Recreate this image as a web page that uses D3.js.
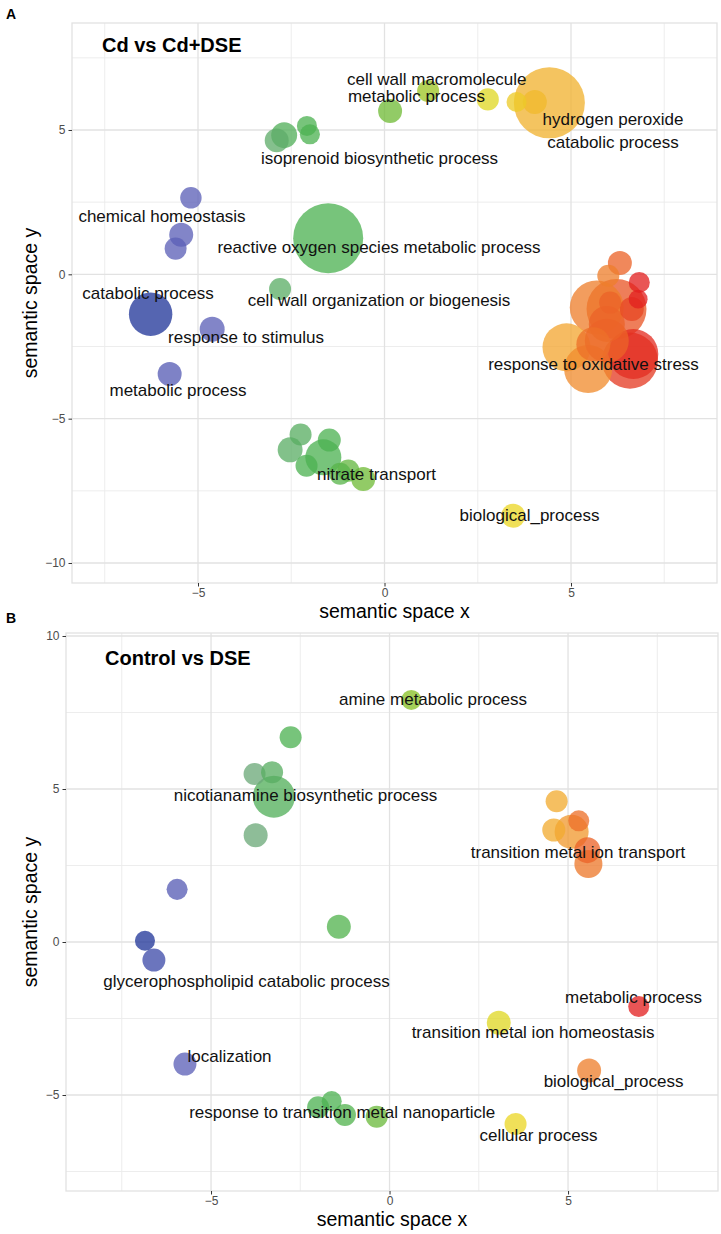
<!DOCTYPE html>
<html>
<head>
<meta charset="utf-8">
<script src="https://cdn.jsdelivr.net/npm/d3@7"></script>
<style>
  body { margin: 0; background: #fff; }
  svg { display: block; font-family: "Liberation Sans", Arial, Helvetica, sans-serif; }
</style>
</head>
<body>
<svg id="chart" width="721" height="1234"></svg>
<script>
// ---------- Panel A : Cd vs Cd+DSE ----------
const titleA = "Cd vs Cd+DSE";
const xA    = [-5.19,-5.45,-5.60,-6.27,-4.62,-5.76,-2.89,-2.69,-2.08,-2.00,-2.80,-1.51, 0.15, 1.17, 2.77, 3.54, 4.03, 4.42,
               6.31, 6.00, 6.83, 6.80, 5.69, 6.22, 6.05, 6.63, 4.88, 5.46, 5.96, 6.58, 6.67, 5.60, 5.96,
              -2.25,-2.53,-1.48,-1.64,-2.09,-0.97,-1.19,-0.57, 3.45];
const yA    = [ 2.65, 1.37, 0.89,-1.38,-1.90,-3.45, 4.64, 4.82, 5.14, 4.85,-0.51, 1.25, 5.66, 6.35, 6.06, 5.97, 5.97, 5.94,
               0.39,-0.05,-0.28,-0.86,-1.15,-1.20,-0.98,-1.20,-2.53,-3.28,-2.30,-2.99,-2.76,-2.42,-1.72,
              -5.55,-6.08,-5.74,-6.34,-6.63,-6.80,-6.91,-7.09,-8.36];
const sizeA = [ 1.39, 1.57, 1.43, 2.96, 1.64, 1.57, 1.57, 1.71, 1.29, 1.29, 1.43, 4.86, 1.57, 1.43, 1.43, 1.29, 1.57, 4.93,
               1.57, 1.43, 1.36, 1.21, 3.71, 4.14, 1.43, 1.57, 3.29, 3.29, 3.00, 3.86, 3.43, 2.29, 2.43,
               1.43, 1.64, 1.50, 2.43, 1.43, 1.43, 1.43, 1.57, 1.57];
const pA    = [-7.0,-7.0,-7.0,-8.0,-7.0,-7.1,-6.3,-6.1,-6.0,-6.0,-6.25,-6.0,-5.4,-4.8,-4.1,-3.7,-3.35,-3.2,
               -2.5,-2.7,-2.0,-2.0,-2.7,-2.4,-2.5,-2.3,-3.0,-2.8,-2.5,-2.2,-2.1,-2.6,-2.5,
               -6.2,-6.25,-6.0,-6.0,-6.0,-5.6,-5.8,-5.4,-3.9];
const labelTextA = ["cell wall macromolecule","metabolic process","hydrogen peroxide","catabolic process",
                    "isoprenoid biosynthetic process","chemical homeostasis","reactive oxygen species metabolic process",
                    "catabolic process","cell wall organization or biogenesis","response to stimulus","metabolic process",
                    "response to oxidative stress","nitrate transport","biological_process"];
const labelXA = [-1.005,-0.98, 6.126, 6.126,-0.134,-5.965,-0.147,-6.34,-0.147,-3.713,-5.536, 5.603,-0.214, 3.887];
const labelYA = [ 6.557, 5.97, 5.173, 4.377, 3.824, 1.817, 0.744,-0.848,-1.09,-2.37,-4.204,-3.304,-7.111,-8.529];
const labelAnchorA = ["start","start","middle","middle","middle","middle","middle","middle","middle","middle","middle","middle","middle","middle"];
const xDomainA = [-8.378, 8.914], yDomainA = [-10.693, 8.706];
const xTicksA = [-5, 0, 5], yTicksA = [-10, -5, 0, 5];
const xMinorA = [-7.5, -2.5, 2.5, 7.5], yMinorA = [-7.5, -2.5, 2.5, 7.5];

// ---------- Panel B : Control vs DSE ----------
const titleB = "Control vs DSE";
const xB    = [ 0.61,-2.77,-3.78,-3.29,-3.24,-3.75,-5.95,-1.42,-6.85,-6.60,-5.73,-2.00,-1.62,-1.25,-0.36, 3.06, 3.53, 6.98, 5.59,
                4.68, 4.60, 5.10, 5.30, 5.54, 5.57];
const yB    = [ 7.91, 6.69, 5.49, 5.55, 4.75, 3.49, 1.72, 0.50, 0.04,-0.59,-3.99,-5.40,-5.20,-5.65,-5.71,-2.64,-5.95,-2.11,-4.20,
                4.60, 3.66, 3.60, 3.96, 3.00, 2.55];
const sizeB = [ 1.29, 1.43, 1.43, 1.43, 2.86, 1.57, 1.36, 1.57, 1.29, 1.50, 1.50, 1.43, 1.29, 1.43, 1.43, 1.57, 1.43, 1.36, 1.57,
                1.43, 1.50, 2.29, 1.36, 1.71, 1.86];
const pB    = [-5.0,-6.0,-6.5,-6.2,-6.1,-6.5,-7.1,-5.9,-8.0,-7.5,-7.0,-6.0,-6.0,-5.9,-5.5,-4.1,-3.9,-2.0,-2.7,
               -3.1,-3.1,-2.9,-2.6,-2.5,-2.65];
const labelTextB = ["amine metabolic process","nicotianamine biosynthetic process","transition metal ion transport",
                    "glycerophospholipid catabolic process","metabolic process","transition metal ion homeostasis",
                    "localization","biological_process","response to transition metal nanoparticle","cellular process"];
const labelXB = [ 1.218,-2.353, 5.28,-4.006, 6.835, 4.02,-4.482, 6.275,-1.325, 4.174];
const labelYB = [ 7.745, 4.608, 2.745,-1.47,-1.993,-3.137,-3.922,-4.739,-5.752,-6.503];
const labelAnchorB = ["middle","middle","middle","middle","middle","middle","middle","middle","middle","middle"];
const xDomainB = [-9.062, 9.2], yDomainB = [-8.137, 10.098];
const xTicksB = [-5, 0, 5], yTicksB = [-5, 0, 5, 10];
const xMinorB = [-7.5, -2.5, 2.5, 7.5], yMinorB = [-7.5, -2.5, 2.5, 7.5];

// ---------- shared scales ----------
const colorStops = [-8, -7, -6.5, -6, -5, -4, -3, -2];
const colorRange = ["#1f3598", "#5b5fb7", "#6aa878", "#4cb152", "#88c024", "#eadb24", "#f3a630", "#e21f1f"];
const color = d3.scaleLinear().domain(colorStops).range(colorRange).interpolate(d3.interpolateRgb).clamp(true);
const radius = d3.scaleLinear().domain([1, 5]).range([8, 36]);

const svg = d3.select("#chart");

function drawPanel(cfg) {
  const { box, xDomain, yDomain, xTicks, yTicks, xMinor, yMinor, xs, ys, sizes, ps,
          labels, lx, ly, anchors, title, letter, letterY } = cfg;
  const x = d3.scaleLinear().domain(xDomain).range([box.left, box.right]);
  const y = d3.scaleLinear().domain(yDomain).range([box.bottom, box.top]);
  const g = svg.append("g");

  // grid
  g.selectAll(".minx").data(xMinor).join("line")
    .attr("x1", d => x(d)).attr("x2", d => x(d)).attr("y1", box.top).attr("y2", box.bottom)
    .attr("stroke", "#ebebeb").attr("stroke-width", 0.9);
  g.selectAll(".miny").data(yMinor).join("line")
    .attr("y1", d => y(d)).attr("y2", d => y(d)).attr("x1", box.left).attr("x2", box.right)
    .attr("stroke", "#ebebeb").attr("stroke-width", 0.9);
  g.selectAll(".majx").data(xTicks).join("line")
    .attr("x1", d => x(d)).attr("x2", d => x(d)).attr("y1", box.top).attr("y2", box.bottom)
    .attr("stroke", "#e2e2e2").attr("stroke-width", 1.3);
  g.selectAll(".majy").data(yTicks).join("line")
    .attr("y1", d => y(d)).attr("y2", d => y(d)).attr("x1", box.left).attr("x2", box.right)
    .attr("stroke", "#e2e2e2").attr("stroke-width", 1.3);
  g.append("rect").attr("x", box.left).attr("y", box.top)
    .attr("width", box.right - box.left).attr("height", box.bottom - box.top)
    .attr("fill", "none").attr("stroke", "#e2e2e2").attr("stroke-width", 1.3);

  // axes
  const xAxis = g.append("g").attr("transform", `translate(0,${box.bottom})`)
    .call(d3.axisBottom(x).tickValues(xTicks).tickSize(3.5).tickPadding(2)
      .tickFormat(d => d < 0 ? "\u2212" + Math.abs(d) : d));
  const yAxis = g.append("g").attr("transform", `translate(${box.left},0)`)
    .call(d3.axisLeft(y).tickValues(yTicks).tickSize(3.5).tickPadding(3)
      .tickFormat(d => d < 0 ? "\u2212" + Math.abs(d) : d));
  [xAxis, yAxis].forEach(a => {
    a.select(".domain").remove();
    a.selectAll(".tick line").attr("stroke", "#333").attr("stroke-width", 1);
    a.selectAll(".tick text").attr("fill", "#4d4d4d").attr("font-size", 12)
      .attr("font-family", "Liberation Sans, Arial, sans-serif");
  });

  // bubbles
  const idx = d3.range(xs.length).sort((a, b) => sizes[b] - sizes[a]);
  g.append("g").selectAll("circle").data(idx).join("circle")
    .attr("cx", i => x(xs[i])).attr("cy", i => y(ys[i]))
    .attr("r", i => radius(sizes[i]))
    .attr("fill", i => color(ps[i])).attr("fill-opacity", 0.76);

  // labels
  g.append("g").selectAll("text").data(labels).join("text")
    .attr("x", (d, i) => x(lx[i])).attr("y", (d, i) => y(ly[i]))
    .attr("text-anchor", (d, i) => anchors[i])
    .attr("font-size", 17).attr("fill", "#111")
    .text(d => d);

  // title
  g.append("text").attr("x", box.left + cfg.titleDx).attr("y", cfg.titleY)
    .attr("font-size", 20).attr("font-weight", "bold").attr("fill", "#000").text(title);

  // axis titles
  g.append("text").attr("x", (box.left + box.right) / 2).attr("y", box.bottom + 35)
    .attr("text-anchor", "middle").attr("font-size", 19.5).attr("fill", "#000").text("semantic space x");
  g.append("text").attr("transform", `translate(37,${(box.top + box.bottom) / 2}) rotate(-90)`)
    .attr("text-anchor", "middle").attr("font-size", 19.5).attr("fill", "#000").text("semantic space y");

  // panel letter
  svg.append("text").attr("x", 6).attr("y", letterY).attr("font-size", 14)
    .attr("font-weight", "bold").attr("fill", "#000").text(letter);
}

drawPanel({
  box: { left: 72, right: 717, top: 23, bottom: 583 },
  xDomain: xDomainA, yDomain: yDomainA, xTicks: xTicksA, yTicks: yTicksA, xMinor: xMinorA, yMinor: yMinorA,
  xs: xA, ys: yA, sizes: sizeA, ps: pA,
  labels: labelTextA, lx: labelXA, ly: labelYA, anchors: labelAnchorA,
  title: titleA, titleDx: 30, titleY: 52, letter: "A", letterY: 19
});
drawPanel({
  box: { left: 66, right: 718, top: 633, bottom: 1191 },
  xDomain: xDomainB, yDomain: yDomainB, xTicks: xTicksB, yTicks: yTicksB, xMinor: xMinorB, yMinor: yMinorB,
  xs: xB, ys: yB, sizes: sizeB, ps: pB,
  labels: labelTextB, lx: labelXB, ly: labelYB, anchors: labelAnchorB,
  title: titleB, titleDx: 39, titleY: 665, letter: "B", letterY: 623
});
</script>
</body>
</html>
